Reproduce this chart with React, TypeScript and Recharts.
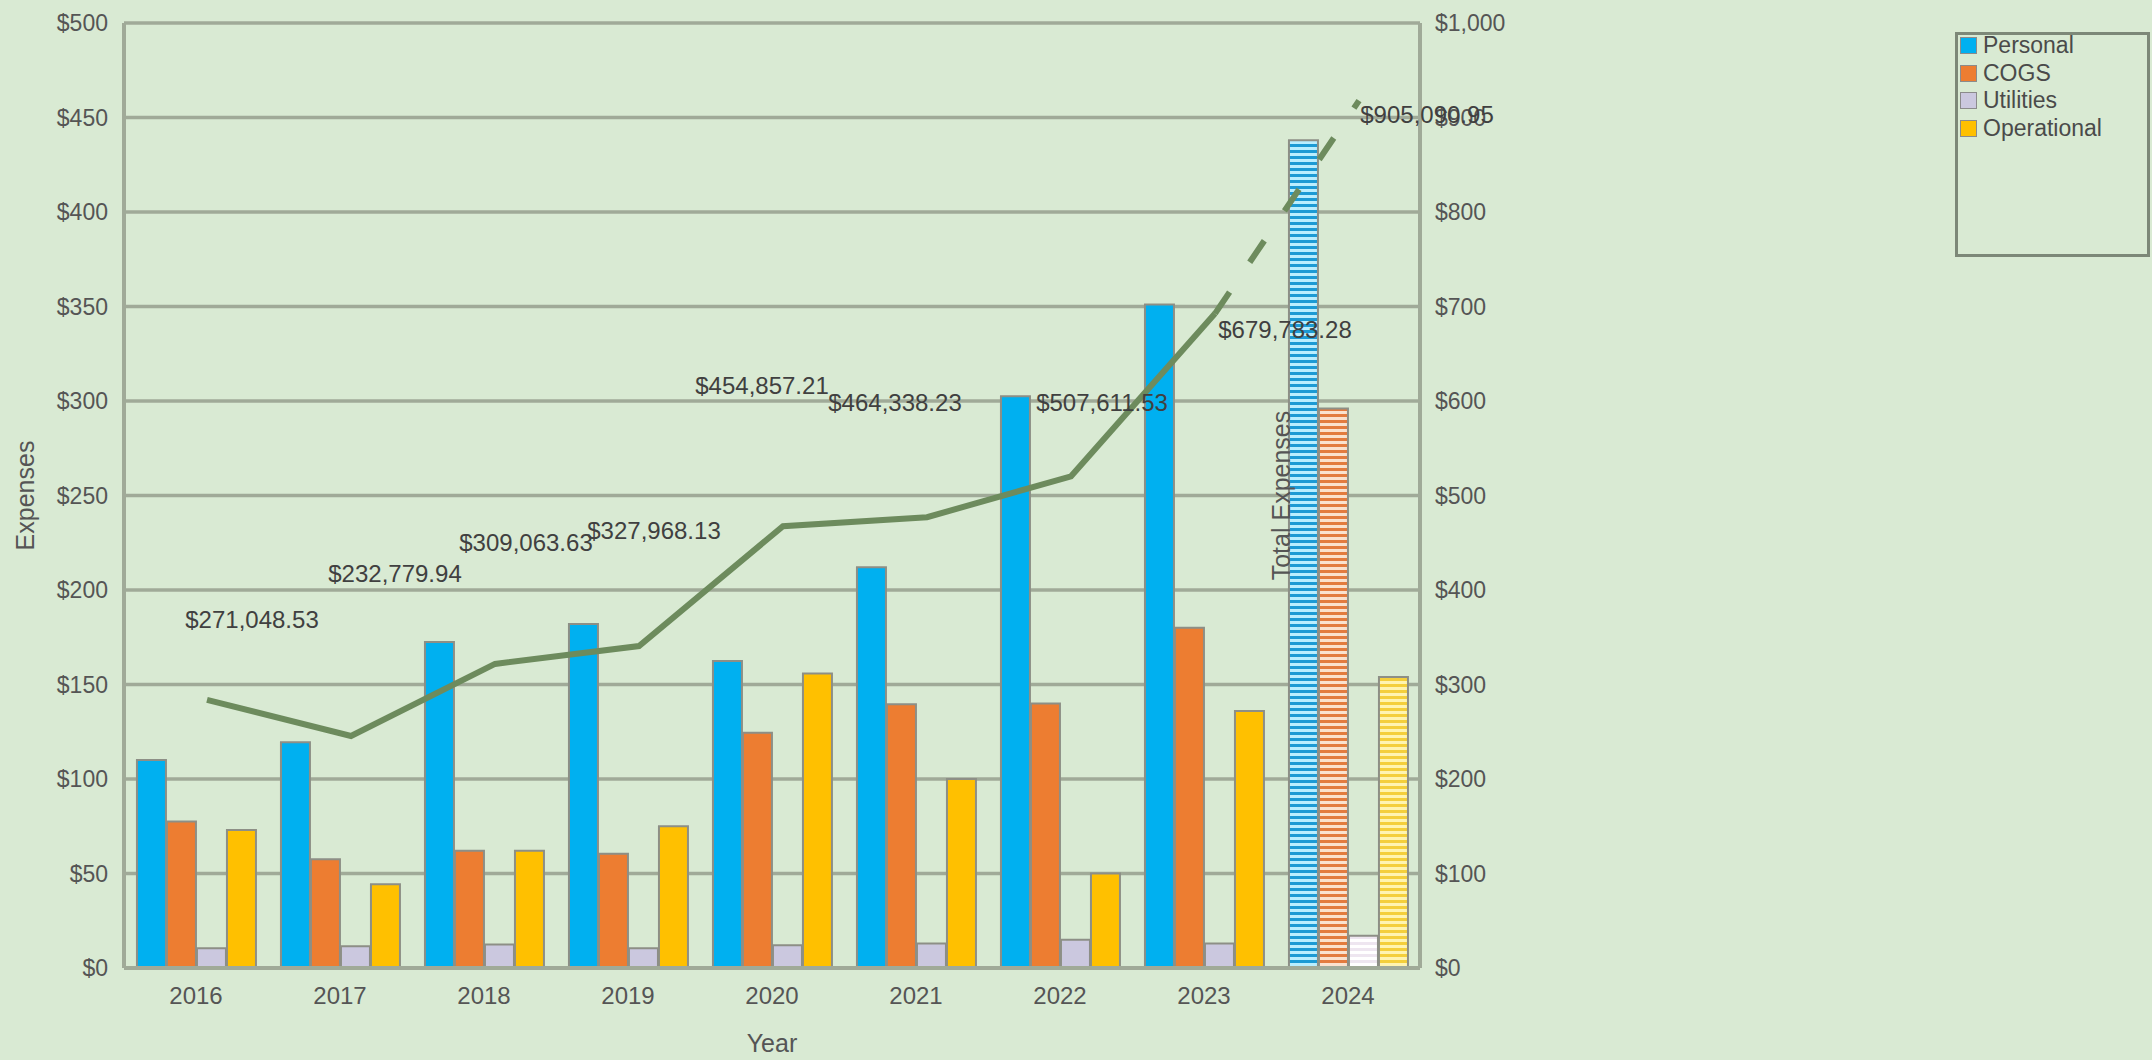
import {
  Bar,
  CartesianGrid,
  Cell,
  ComposedChart,
  LabelList,
  Line,
  XAxis,
  YAxis,
} from "recharts";

// Expenses by year, in thousands of dollars (left axis)
const YEARS = ["2016", "2017", "2018", "2019", "2020", "2021", "2022", "2023", "2024"];
const PERSONAL = [110, 119.5, 172.5, 182, 162.5, 212, 302.5, 351, 438];
const COGS = [77.5, 57.5, 62, 60.5, 124.5, 139.5, 140, 180, 296];
const UTILITIES = [10.5, 11.5, 12.5, 10.5, 12, 13, 15, 13, 17];
const OPERATIONAL = [73, 44.3, 62, 75, 155.8, 100, 50, 136, 154];
// Total expenses in dollars (right axis is in thousands)
const TOTALS = [
  271048.53, 232779.94, 309063.63, 327968.13, 454857.21, 464338.23, 507611.53,
  679783.28, 905090.95,
];
const LEFT_TICKS = [0, 50, 100, 150, 200, 250, 300, 350, 400, 450, 500];
const RIGHT_TICKS = [0, 100, 200, 300, 400, 500, 600, 700, 800, 900, 1000];
const LAST_ACTUAL = 7; // 2024 is the projected year (hatched bars, dashed line)

const SERIES = [
  { key: "personal", name: "Personal", color: "#00b0f0", dark: "#1c9ad4", light: "#b9eeff" },
  { key: "cogs", name: "COGS", color: "#ed7d31", dark: "#e37b3e", light: "#fbe1cd" },
  { key: "utilities", name: "Utilities", color: "#cbc8df", dark: "#eee6f0", light: "#ffffff" },
  { key: "operational", name: "Operational", color: "#ffc000", dark: "#f4cf3c", light: "#fff4b0" },
];

// layout
const W = 2152;
const H = 1060;
const PLOT = { left: 124, right: 1420, top: 23, bottom: 968 };
const RIGHT_AXIS_W = 110;
const BAND = (PLOT.right - PLOT.left) / YEARS.length;
const LINE_DX = 11; // the total line sits slightly up/right of the bars in the original
const LINE_DY = 12;
const LINE_DY_UNITS = (LINE_DY / (PLOT.bottom - PLOT.top)) * 1000;
// where each total label sits relative to its (unshifted) point
const LABEL_NUDGE = [
  [45, -92], [44, -175], [31, -133], [15, -128], [-21, -153],
  [-32, -127], [31, -86], [70, 4], [68, 2],
];

const BG = "#d9ead3";
const GRID = "#a0aa98";
const TEXT = "#555";
const LINE = "#6d8b5d";
const FONT = '"Liberation Sans", Arial, sans-serif';

const DATA = YEARS.map((year, i) => ({
  year,
  idx: i,
  personal: PERSONAL[i],
  cogs: COGS[i],
  utilities: UTILITIES[i],
  operational: OPERATIONAL[i],
  total: TOTALS[i] / 1000,
  actual: i <= LAST_ACTUAL ? TOTALS[i] / 1000 : null,
  forecast: i >= LAST_ACTUAL ? TOTALS[i] / 1000 : null,
}));

const money = (v: number) =>
  "$" + v.toLocaleString("en-US", { minimumFractionDigits: 2, maximumFractionDigits: 2 });

function TotalLabel(props: any) {
  const { x, y, index } = props;
  if (x == null || y == null) return null;
  const [dx, dy] = LABEL_NUDGE[index];
  return (
    <text
      x={x + dx}
      y={y + dy}
      textAnchor="middle"
      dominantBaseline="central"
      fontSize={24}
      fill="#404040"
    >
      {money(TOTALS[index])}
    </text>
  );
}

function AxisTitle(props: any) {
  const { text, cx } = props;
  const cy = (PLOT.top + PLOT.bottom) / 2;
  return (
    <text
      x={cx}
      y={cy}
      transform={`rotate(-90 ${cx} ${cy})`}
      textAnchor="middle"
      dominantBaseline="central"
      fontSize={25}
      fill={TEXT}
    >
      {text}
    </text>
  );
}

function LegendBox() {
  return (
    <div
      style={{
        position: "absolute",
        left: 1955,
        top: 32,
        width: 189,
        height: 219,
        border: `3px solid #7d8878`,
        fontFamily: FONT,
        fontSize: 23,
        color: "#4a4a4a",
      }}
    >
      <div style={{ marginTop: -3 }}>
        {SERIES.map((s) => (
          <div
            key={s.key}
            style={{ display: "flex", alignItems: "center", height: 27.5 }}
          >
            <span
              style={{
                width: 17,
                height: 17,
                marginLeft: 2,
                marginRight: 6,
                background: s.color,
                border: "1px solid #8b8b8b",
                boxSizing: "border-box",
              }}
            />
            <span>{s.name}</span>
          </div>
        ))}
      </div>
    </div>
  );
}

export default function App() {
  const yTick = { fill: TEXT, fontSize: 23 };
  const xTick = { fill: TEXT, fontSize: 24 };
  return (
    <div
      style={{
        position: "absolute",
        left: 0,
        top: 0,
        width: W,
        height: H,
        background: BG,
        fontFamily: FONT,
      }}
    >
      <ComposedChart
        width={W}
        height={H}
        data={DATA}
        margin={{ top: PLOT.top, left: 0, right: W - PLOT.right - RIGHT_AXIS_W, bottom: 0 }}
        barCategoryGap="9%"
        barGap={1}
      >
        <defs>
          {SERIES.map((s) => (
            <pattern
              key={s.key}
              id={`hatch-${s.key}`}
              width={8}
              height={6}
              patternUnits="userSpaceOnUse"
            >
              <rect width={8} height={6} fill={s.dark} />
              <rect y={3} width={8} height={3} fill={s.light} />
            </pattern>
          ))}
        </defs>
        <CartesianGrid
          xAxisId="cat"
          yAxisId="left"
          vertical={false}
          stroke={GRID}
          strokeWidth={3.5}
        />
        <XAxis
          xAxisId="cat"
          dataKey="year"
          height={H - PLOT.bottom}
          tick={xTick}
          tickLine={false}
          tickSize={0}
          tickMargin={19}
          axisLine={{ stroke: GRID, strokeWidth: 4 }}
          label={{ value: "Year", position: "insideBottom", offset: 8, fill: TEXT, fontSize: 25 }}
        />
        <XAxis
          xAxisId="line"
          dataKey="idx"
          type="number"
          hide
          height={0}
          allowDataOverflow
          domain={[-0.5 - LINE_DX / BAND, YEARS.length - 0.5 - LINE_DX / BAND]}
        />
        <YAxis
          yAxisId="left"
          width={PLOT.left}
          domain={[0, 500]}
          ticks={LEFT_TICKS}
          interval={0}
          tickFormatter={(v) => `$${v}`}
          tick={yTick}
          tickLine={false}
          tickSize={0}
          tickMargin={16}
          axisLine={{ stroke: GRID, strokeWidth: 4 }}
          label={<AxisTitle text="Expenses" cx={25} />}
        />
        <YAxis
          yAxisId="right"
          orientation="right"
          width={RIGHT_AXIS_W}
          domain={[0, 1000]}
          ticks={RIGHT_TICKS}
          interval={0}
          allowDataOverflow
          tickFormatter={(v) => `$${Number(v).toLocaleString("en-US")}`}
          tick={yTick}
          tickLine={false}
          tickSize={0}
          tickMargin={15}
          axisLine={{ stroke: GRID, strokeWidth: 4 }}
          label={<AxisTitle text="Total Expenses" cx={1281} />}
        />
        <YAxis
          yAxisId="lineY"
          orientation="right"
          hide
          width={0}
          allowDataOverflow
          domain={[-LINE_DY_UNITS, 1000 - LINE_DY_UNITS]}
        />
        {SERIES.map((s) => (
          <Bar
            key={s.key}
            xAxisId="cat"
            yAxisId="left"
            dataKey={s.key}
            name={s.name}
            fill={s.color}
            stroke="#8d8f86"
            strokeWidth={2}
            isAnimationActive={false}
          >
            {DATA.map((_, i) => (
              <Cell key={i} fill={i > LAST_ACTUAL ? `url(#hatch-${s.key})` : s.color} />
            ))}
          </Bar>
        ))}
        <Line
          xAxisId="line"
          yAxisId="lineY"
          dataKey="actual"
          stroke={LINE}
          strokeWidth={6}
          dot={false}
          activeDot={false}
          isAnimationActive={false}
        />
        <Line
          xAxisId="line"
          yAxisId="lineY"
          dataKey="forecast"
          stroke={LINE}
          strokeWidth={6}
          strokeDasharray="26 36"
          dot={false}
          activeDot={false}
          isAnimationActive={false}
        />
        <Line
          xAxisId="line"
          yAxisId="right"
          dataKey="total"
          stroke="none"
          dot={false}
          activeDot={false}
          isAnimationActive={false}
        >
          <LabelList dataKey="total" content={<TotalLabel />} />
        </Line>
      </ComposedChart>
      <LegendBox />
    </div>
  );
}
